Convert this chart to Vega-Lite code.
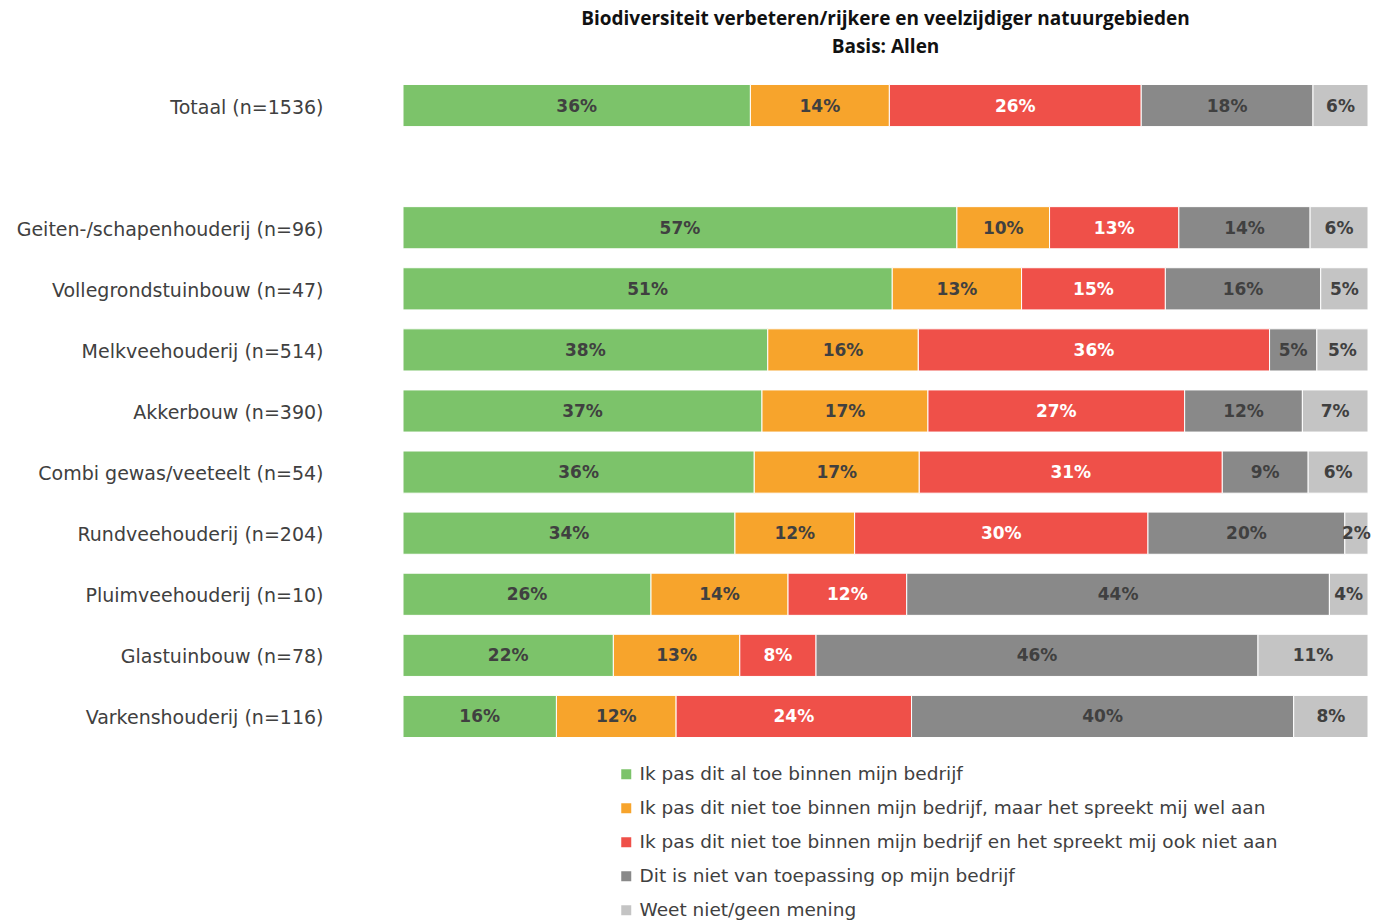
{
  "$schema": "https://vega.github.io/schema/vega-lite/v6.json",
  "width": 965,
  "height": 672,
  "autosize": "none",
  "padding": {"left": 403, "top": 75, "right": 5, "bottom": 176},
  "background": "white",
  "config": {"view": {"stroke": null}, "font": "DejaVu Sans"},
  "title": {
    "text": ["Biodiversiteit verbeteren/rijkere en veelzijdiger natuurgebieden", "Basis: Allen"],
    "fontSize": 19,
    "fontWeight": "bold",
    "color": "#111111",
    "lineHeight": 28,
    "anchor": "middle",
    "offset": 18,
    "font": "Open Sans"
  },
  "data": {
    "values": [
      {"cat": "Totaal (n=1536)", "i": 1, "v": 0.360},
      {"cat": "Totaal (n=1536)", "i": 2, "v": 0.144},
      {"cat": "Totaal (n=1536)", "i": 3, "v": 0.261},
      {"cat": "Totaal (n=1536)", "i": 4, "v": 0.178},
      {"cat": "Totaal (n=1536)", "i": 5, "v": 0.057},
      {"cat": "Geiten-/schapenhouderij (n=96)", "i": 1, "v": 0.574},
      {"cat": "Geiten-/schapenhouderij (n=96)", "i": 2, "v": 0.096},
      {"cat": "Geiten-/schapenhouderij (n=96)", "i": 3, "v": 0.134},
      {"cat": "Geiten-/schapenhouderij (n=96)", "i": 4, "v": 0.136},
      {"cat": "Geiten-/schapenhouderij (n=96)", "i": 5, "v": 0.060},
      {"cat": "Vollegrondstuinbouw (n=47)", "i": 1, "v": 0.507},
      {"cat": "Vollegrondstuinbouw (n=47)", "i": 2, "v": 0.134},
      {"cat": "Vollegrondstuinbouw (n=47)", "i": 3, "v": 0.149},
      {"cat": "Vollegrondstuinbouw (n=47)", "i": 4, "v": 0.161},
      {"cat": "Vollegrondstuinbouw (n=47)", "i": 5, "v": 0.049},
      {"cat": "Melkveehouderij (n=514)", "i": 1, "v": 0.378},
      {"cat": "Melkveehouderij (n=514)", "i": 2, "v": 0.156},
      {"cat": "Melkveehouderij (n=514)", "i": 3, "v": 0.364},
      {"cat": "Melkveehouderij (n=514)", "i": 4, "v": 0.049},
      {"cat": "Melkveehouderij (n=514)", "i": 5, "v": 0.053},
      {"cat": "Akkerbouw (n=390)", "i": 1, "v": 0.372},
      {"cat": "Akkerbouw (n=390)", "i": 2, "v": 0.172},
      {"cat": "Akkerbouw (n=390)", "i": 3, "v": 0.266},
      {"cat": "Akkerbouw (n=390)", "i": 4, "v": 0.122},
      {"cat": "Akkerbouw (n=390)", "i": 5, "v": 0.068},
      {"cat": "Combi gewas/veeteelt (n=54)", "i": 1, "v": 0.364},
      {"cat": "Combi gewas/veeteelt (n=54)", "i": 2, "v": 0.171},
      {"cat": "Combi gewas/veeteelt (n=54)", "i": 3, "v": 0.314},
      {"cat": "Combi gewas/veeteelt (n=54)", "i": 4, "v": 0.089},
      {"cat": "Combi gewas/veeteelt (n=54)", "i": 5, "v": 0.062},
      {"cat": "Rundveehouderij (n=204)", "i": 1, "v": 0.344},
      {"cat": "Rundveehouderij (n=204)", "i": 2, "v": 0.124},
      {"cat": "Rundveehouderij (n=204)", "i": 3, "v": 0.304},
      {"cat": "Rundveehouderij (n=204)", "i": 4, "v": 0.204},
      {"cat": "Rundveehouderij (n=204)", "i": 5, "v": 0.024},
      {"cat": "Pluimveehouderij (n=10)", "i": 1, "v": 0.257},
      {"cat": "Pluimveehouderij (n=10)", "i": 2, "v": 0.142},
      {"cat": "Pluimveehouderij (n=10)", "i": 3, "v": 0.123},
      {"cat": "Pluimveehouderij (n=10)", "i": 4, "v": 0.438},
      {"cat": "Pluimveehouderij (n=10)", "i": 5, "v": 0.040},
      {"cat": "Glastuinbouw (n=78)", "i": 1, "v": 0.218},
      {"cat": "Glastuinbouw (n=78)", "i": 2, "v": 0.131},
      {"cat": "Glastuinbouw (n=78)", "i": 3, "v": 0.079},
      {"cat": "Glastuinbouw (n=78)", "i": 4, "v": 0.458},
      {"cat": "Glastuinbouw (n=78)", "i": 5, "v": 0.114},
      {"cat": "Varkenshouderij (n=116)", "i": 1, "v": 0.159},
      {"cat": "Varkenshouderij (n=116)", "i": 2, "v": 0.124},
      {"cat": "Varkenshouderij (n=116)", "i": 3, "v": 0.244},
      {"cat": "Varkenshouderij (n=116)", "i": 4, "v": 0.396},
      {"cat": "Varkenshouderij (n=116)", "i": 5, "v": 0.077}
    ]
  },
  "transform": [
    {"lookup": "i", "from": {"data": {"values": [
      {"i": 1, "resp": "Ik pas dit al toe binnen mijn bedrijf"},
      {"i": 2, "resp": "Ik pas dit niet toe binnen mijn bedrijf, maar het spreekt mij wel aan"},
      {"i": 3, "resp": "Ik pas dit niet toe binnen mijn bedrijf en het spreekt mij ook niet aan"},
      {"i": 4, "resp": "Dit is niet van toepassing op mijn bedrijf"},
      {"i": 5, "resp": "Weet niet/geen mening"}
    ]}, "key": "i", "fields": ["resp"]}},
    {"stack": "v", "groupby": ["cat"], "sort": [{"field": "i", "order": "ascending"}], "as": ["v0", "v1"]},
    {"calculate": "(datum.v0 + datum.v1) / 2", "as": "mid"}
  ],
  "encoding": {
    "y": {
      "field": "cat",
      "type": "nominal",
      "scale": {
        "domain": ["Totaal (n=1536)", " ", "Geiten-/schapenhouderij (n=96)", "Vollegrondstuinbouw (n=47)", "Melkveehouderij (n=514)", "Akkerbouw (n=390)", "Combi gewas/veeteelt (n=54)", "Rundveehouderij (n=204)", "Pluimveehouderij (n=10)", "Glastuinbouw (n=78)", "Varkenshouderij (n=116)"],
        "paddingInner": 0.31,
        "paddingOuter": 0.155
      },
      "axis": {
        "title": null,
        "domain": false,
        "ticks": false,
        "labelFontSize": 19,
        "labelColor": "#404040",
        "labelPadding": 80,
        "labelOffset": 2,
        "labelFont": "DejaVu Sans",
        "labelLimit": 500
      }
    }
  },
  "layer": [
    {
      "mark": {"type": "bar", "stroke": "white", "strokeWidth": 1},
      "encoding": {
        "x": {"field": "v0", "type": "quantitative", "scale": {"domain": [0, 1], "nice": false}, "axis": null},
        "x2": {"field": "v1"},
        "color": {
          "field": "resp",
          "type": "nominal",
          "scale": {
            "domain": ["Ik pas dit al toe binnen mijn bedrijf", "Ik pas dit niet toe binnen mijn bedrijf, maar het spreekt mij wel aan", "Ik pas dit niet toe binnen mijn bedrijf en het spreekt mij ook niet aan", "Dit is niet van toepassing op mijn bedrijf", "Weet niet/geen mening"],
            "range": ["#7CC36A", "#F7A42C", "#EF5049", "#898989", "#C4C4C4"]
          },
          "legend": {
            "title": null,
            "orient": "none",
            "legendX": 214,
            "legendY": 690,
            "symbolType": "square",
            "symbolSize": 100,
            "symbolStrokeWidth": 0,
            "labelFontSize": 18.5,
            "labelColor": "#404040",
            "labelFont": "DejaVu Sans",
            "labelLimit": 1000,
            "rowPadding": 15,
            "labelOffset": 4
          }
        }
      }
    },
    {
      "mark": {"type": "text", "fontSize": 17, "font": "DejaVu Sans", "fontWeight": "bold", "align": "center", "baseline": "middle", "dy": 1},
      "encoding": {
        "x": {"field": "mid", "type": "quantitative"},
        "text": {"field": "v", "type": "quantitative", "format": ".0%"},
        "color": {"condition": {"test": "datum.i == 3", "value": "#FFFFFF"}, "value": "#404040"}
      }
    }
  ]
}
